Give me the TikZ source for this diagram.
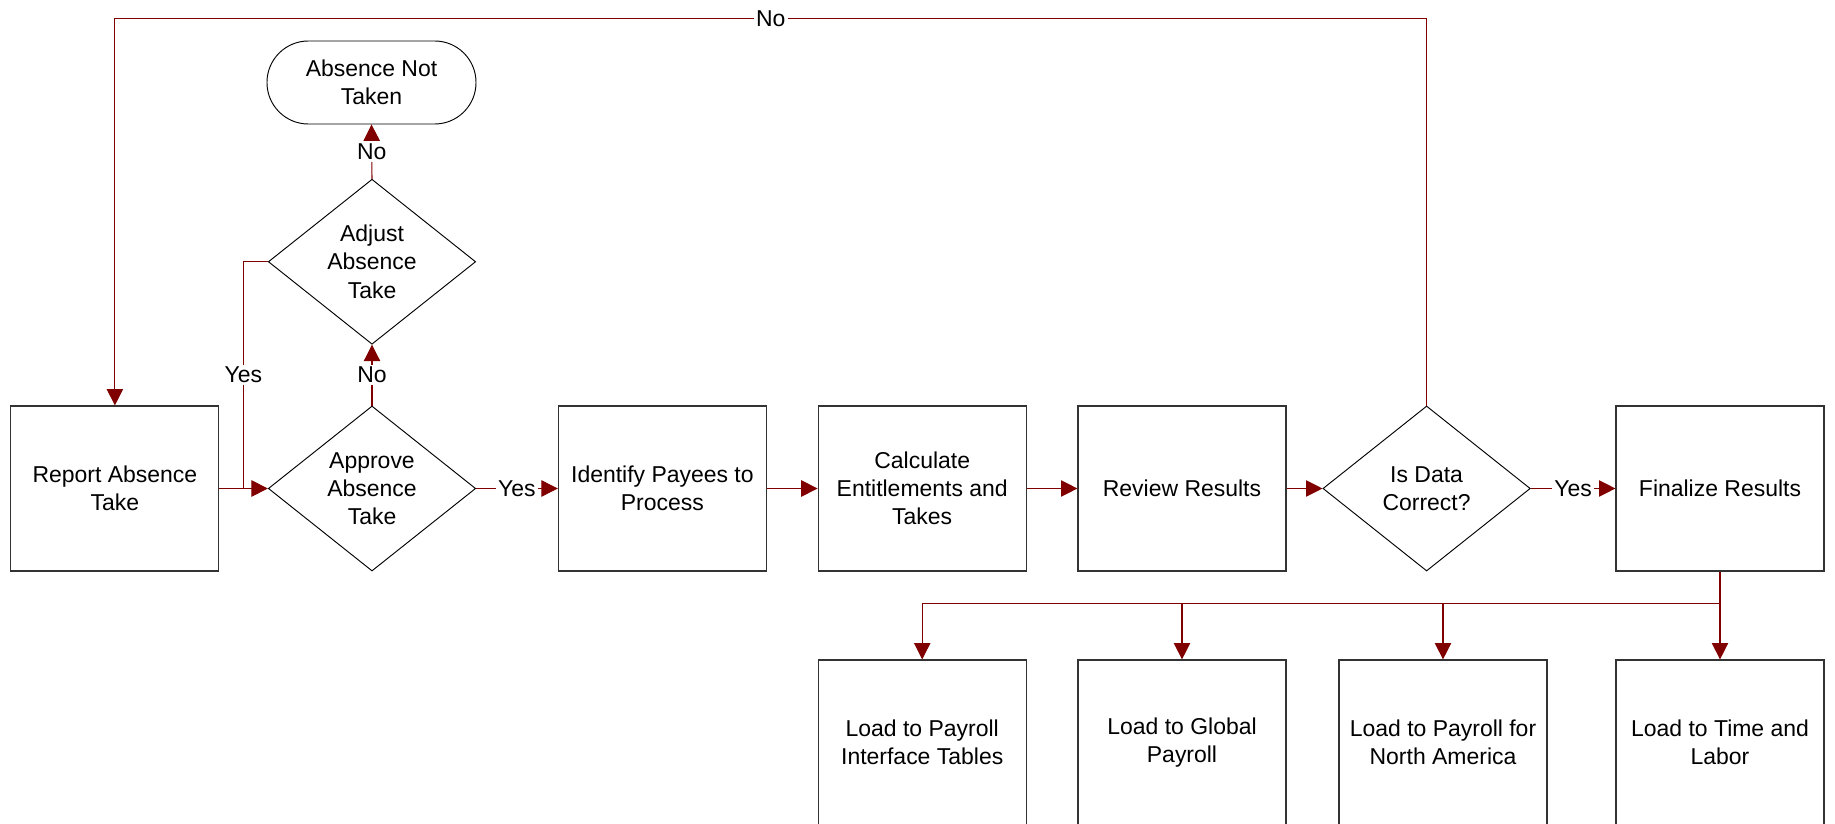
\documentclass[tikz,border=0pt]{standalone}
\usepackage{fontspec}
\setmainfont{Liberation Sans}
\usetikzlibrary{arrows.meta,shapes.geometric}
\definecolor{lnred}{RGB}{128,0,0}
\begin{document}
\begin{tikzpicture}[x=0.03cm,y=-0.03cm,
  every node/.style={font=\fontsize{19.6pt}{24pt}\selectfont, align=center},
  box/.style={draw=black!80, line width=1pt, minimum width=6.24cm, minimum height=4.95cm, inner sep=0pt},
  dec/.style={draw=black, line width=0.8pt, diamond, shape aspect=1.26, minimum width=6.22cm, minimum height=4.95cm, inner sep=0pt},
  term/.style={draw=black, line width=0.8pt, rounded corners=1.24cm, minimum width=6.27cm, minimum height=2.49cm, inner sep=0pt},
  conn/.style={draw=lnred, line width=0.9pt},
  arr/.style={conn, -{Triangle[length=14pt,width=14pt]}},
  lbl/.style={fill=white, inner sep=2pt, text=black}
]
\useasboundingbox (0,0) rectangle (1835,824);
\fill[white] (0,0) rectangle (1835,824);
\clip (0,0) rectangle (1835,824);

\node[box] (report) at (114.9,488.5) {Report Absence\\Take};
\node[dec] (approve) at (372,488.5) {Approve\\Absence\\Take};
\node[dec] (adjust) at (372,261.75) {Adjust\\Absence\\Take};
\node[term] (notaken) at (371.5,82.5) {Absence Not\\Taken};
\node[box] (identify) at (662.4,488.5) {Identify Payees to\\Process};
\node[box] (calc) at (922.2,488.5) {Calculate\\Entitlements and\\Takes};
\node[box] (review) at (1182,488.5) {Review Results};
\node[dec] (isdata) at (1426.6,488.5) {Is Data\\Correct?};
\node[box] (final) at (1720,488.5) {Finalize Results};
\node[box] (pit) at (922.2,742.5) {Load to Payroll\\Interface Tables};
\node[box] (gp) at (1182,742.5) {Load to Global\\Payroll};
\node[box] (na) at (1443,742.5) {Load to Payroll for\\North America};
\node[box] (tl) at (1720,742.5) {Load to Time and\\Labor};

\draw[arr] (report.east) -- (approve.west);
\coordinate (yj) at (243.4,488.5);
\draw[conn] (adjust.west) -| node[lbl,pos=0.75]{Yes} (yj);
\draw[arr] (approve.north) -- node[lbl]{No} (adjust.south);
\draw[arr] (adjust.north) -- node[lbl]{No} (notaken.south);
\draw[arr] (approve.east) -- node[lbl]{Yes} (identify.west);
\draw[arr] (identify.east) -- (calc.west);
\draw[arr] (calc.east) -- (review.west);
\draw[arr] (review.east) -- (isdata.west);
\draw[arr] (isdata.east) -- node[lbl]{Yes} (final.west);

\coordinate (loopR) at (1426.6,18.75);
\coordinate (loopL) at (114.9,18.75);
\draw[arr] (isdata.north) -- (loopR) -- node[lbl]{No} (loopL) -- (report.north);

\coordinate (br) at (1720,603.5);
\draw[conn] (final.south) -- (br);
\draw[arr] (br) -- (tl.north);
\draw[arr] (br) -| (pit.north);
\draw[arr] (br) -| (gp.north);
\draw[arr] (br) -| (na.north);
\end{tikzpicture}
\end{document}
